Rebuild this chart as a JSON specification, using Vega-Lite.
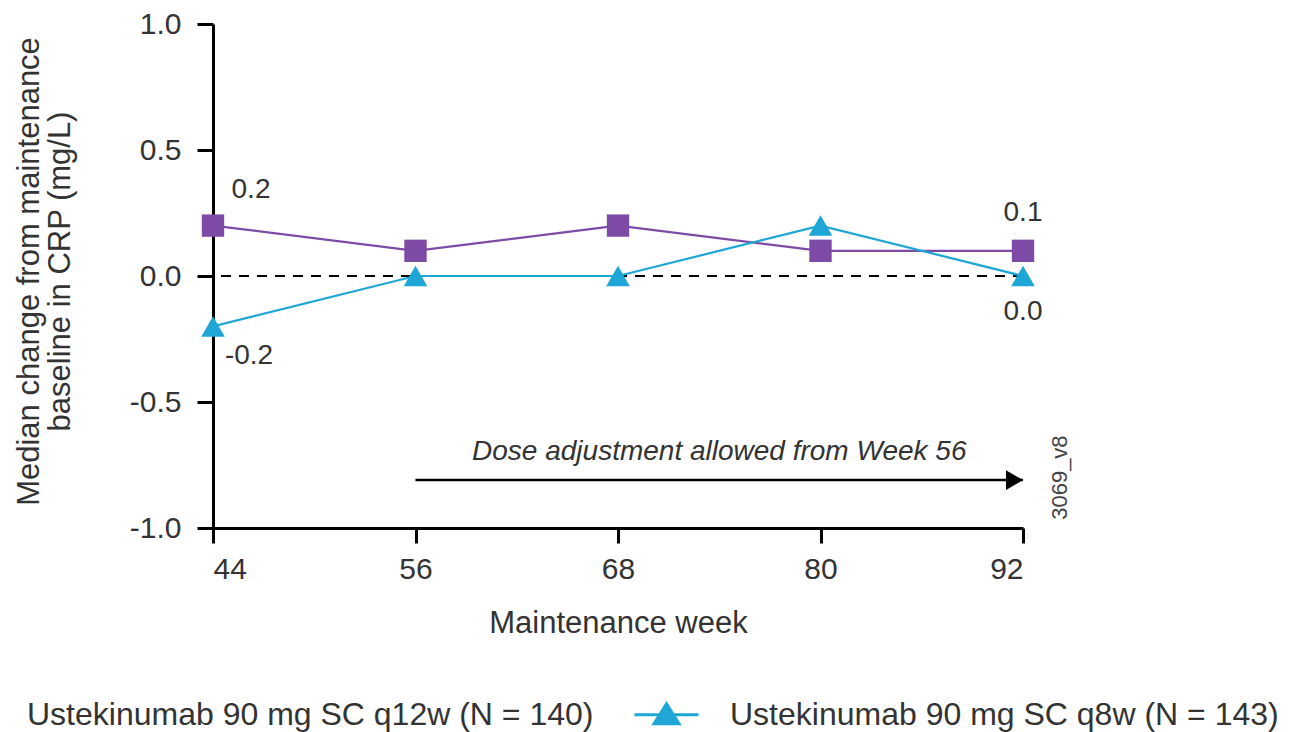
{
  "$schema": "https://vega.github.io/schema/vega-lite/v6.json",
  "width": 810,
  "height": 504,
  "autosize": {"type": "none"},
  "padding": {"left": 213, "top": 24, "right": 281, "bottom": 204},
  "background": "white",
  "config": {
    "view": {"stroke": null},
    "font": "Liberation Sans",
    "locale": {
      "number": {"decimal": ".", "thousands": ",", "grouping": [3], "currency": ["$", ""], "minus": "-"}
    },
    "axis": {
      "domainColor": "black",
      "domainWidth": 3,
      "tickColor": "black",
      "tickWidth": 3,
      "grid": false,
      "labelColor": "#333333",
      "titleColor": "#333333",
      "titleFontWeight": "normal",
      "labelFont": "Liberation Sans",
      "titleFont": "Liberation Sans"
    }
  },
  "datasets": {
    "crp": [
      {"week": 44, "series": "Ustekinumab 90 mg SC q12w (N = 140)", "change": 0.2},
      {"week": 56, "series": "Ustekinumab 90 mg SC q12w (N = 140)", "change": 0.1},
      {"week": 68, "series": "Ustekinumab 90 mg SC q12w (N = 140)", "change": 0.2},
      {"week": 80, "series": "Ustekinumab 90 mg SC q12w (N = 140)", "change": 0.1},
      {"week": 92, "series": "Ustekinumab 90 mg SC q12w (N = 140)", "change": 0.1},
      {"week": 44, "series": "Ustekinumab 90 mg SC q8w (N = 143)", "change": -0.2},
      {"week": 56, "series": "Ustekinumab 90 mg SC q8w (N = 143)", "change": 0.0},
      {"week": 68, "series": "Ustekinumab 90 mg SC q8w (N = 143)", "change": 0.0},
      {"week": 80, "series": "Ustekinumab 90 mg SC q8w (N = 143)", "change": 0.2},
      {"week": 92, "series": "Ustekinumab 90 mg SC q8w (N = 143)", "change": 0.0}
    ]
  },
  "layer": [
    {
      "data": {"values": [{"ref": 0}]},
      "mark": {"type": "rule", "color": "black", "strokeWidth": 2, "strokeDash": [10, 8]},
      "encoding": {"y": {"field": "ref", "type": "quantitative"}}
    },
    {
      "data": {"values": [{"from": 56, "to": 92, "level": -0.81}]},
      "mark": {"type": "rule", "color": "black", "strokeWidth": 2.5},
      "encoding": {
        "x": {"field": "from", "type": "quantitative"},
        "x2": {"field": "to"},
        "y": {"field": "level", "type": "quantitative"}
      }
    },
    {
      "data": {"values": [{"to": 92, "level": -0.81}]},
      "mark": {"type": "point", "filled": true, "color": "black", "opacity": 1, "size": 1156, "shape": "M0,0L-1,-0.58L-1,0.58Z"},
      "encoding": {
        "x": {"field": "to", "type": "quantitative"},
        "y": {"field": "level", "type": "quantitative"}
      }
    },
    {
      "data": {"values": [{"week": 74, "level": -0.7, "note": "Dose adjustment allowed from Week 56"}]},
      "mark": {"type": "text", "fontSize": 28, "fontStyle": "italic", "color": "#333333", "align": "center", "baseline": "middle"},
      "encoding": {
        "x": {"field": "week", "type": "quantitative"},
        "y": {"field": "level", "type": "quantitative"},
        "text": {"field": "note"}
      }
    },
    {
      "data": {"values": [{"week": 94.2, "level": -0.8, "code": "3069_v8"}]},
      "mark": {"type": "text", "fontSize": 22, "angle": 270, "color": "#444444", "align": "center", "baseline": "middle"},
      "encoding": {
        "x": {"field": "week", "type": "quantitative"},
        "y": {"field": "level", "type": "quantitative"},
        "text": {"field": "code"}
      }
    },
    {
      "data": {"name": "crp"},
      "encoding": {
        "x": {
          "field": "week",
          "type": "quantitative",
          "scale": {"domain": [44, 92], "nice": false, "zero": false},
          "axis": {
            "values": [44, 56, 68, 80, 92],
            "tickSize": 15,
            "labelPadding": 11,
            "labelFontSize": 30,
            "title": "Maintenance week",
            "titleFontSize": 31,
            "titlePadding": 24
          }
        },
        "y": {
          "field": "change",
          "type": "quantitative",
          "scale": {"domain": [-1, 1], "nice": false},
          "axis": {
            "values": [-1, -0.5, 0, 0.5, 1],
            "format": ".1f",
            "tickSize": 16,
            "labelPadding": 16,
            "labelFontSize": 30,
            "title": ["Median change from maintenance", "baseline in CRP (mg/L)"],
            "titleFontSize": 31,
            "titleLineHeight": 31,
            "titleAngle": -90,
            "titleAlign": "center",
            "titleBaseline": "top",
            "titleX": -199,
            "titleY": 247
          }
        },
        "color": {
          "field": "series",
          "type": "nominal",
          "scale": {
            "domain": ["Ustekinumab 90 mg SC q12w (N = 140)", "Ustekinumab 90 mg SC q8w (N = 143)"],
            "range": ["#7d4ba6", "#1ea6d6"]
          },
          "legend": {
            "title": null,
            "orient": "none",
            "direction": "horizontal",
            "legendX": -283,
            "legendY": 657,
            "padding": 0,
            "labelFontSize": 32,
            "labelColor": "#333333",
            "labelLimit": 0,
            "labelOffset": 30,
            "columnPadding": 34,
            "symbolType": "M-1,0H1M-0.39,0.28L0,-0.34L0.39,0.28Z",
            "symbolSize": 4096,
            "symbolStrokeWidth": 3,
            "encode": {
              "symbols": {
                "update": {
                  "fill": {"scale": "color", "field": "value"},
                  "stroke": {"scale": "color", "field": "value"},
                  "strokeWidth": {"value": 3},
                  "opacity": {"value": 1}
                }
              }
            }
          }
        }
      },
      "layer": [
        {"mark": {"type": "line", "strokeWidth": 2.2}},
        {
          "transform": [{"filter": "datum.series == 'Ustekinumab 90 mg SC q12w (N = 140)'"}],
          "mark": {"type": "point", "filled": true, "opacity": 1, "size": 500, "shape": "square"}
        },
        {
          "transform": [{"filter": "datum.series == 'Ustekinumab 90 mg SC q8w (N = 143)'"}],
          "mark": {"type": "point", "filled": true, "opacity": 1, "size": 560, "shape": "triangle-up"}
        },
        {
          "transform": [{"filter": "datum.week == 44 && datum.change > 0"}],
          "mark": {"type": "text", "fontSize": 28, "color": "#333333", "dx": 38, "dy": -36},
          "encoding": {"text": {"field": "change", "type": "quantitative", "format": ".1f"}, "color": {"value": "#333333"}}
        },
        {
          "transform": [{"filter": "datum.week == 44 && datum.change < 0"}],
          "mark": {"type": "text", "fontSize": 28, "color": "#333333", "dx": 36, "dy": 30},
          "encoding": {"text": {"field": "change", "type": "quantitative", "format": ".1f"}, "color": {"value": "#333333"}}
        },
        {
          "transform": [{"filter": "datum.week == 92 && datum.change > 0"}],
          "mark": {"type": "text", "fontSize": 28, "color": "#333333", "dy": -38},
          "encoding": {"text": {"field": "change", "type": "quantitative", "format": ".1f"}, "color": {"value": "#333333"}}
        },
        {
          "transform": [{"filter": "datum.week == 92 && datum.change == 0"}],
          "mark": {"type": "text", "fontSize": 28, "color": "#333333", "dy": 36},
          "encoding": {"text": {"field": "change", "type": "quantitative", "format": ".1f"}, "color": {"value": "#333333"}}
        }
      ]
    }
  ]
}
